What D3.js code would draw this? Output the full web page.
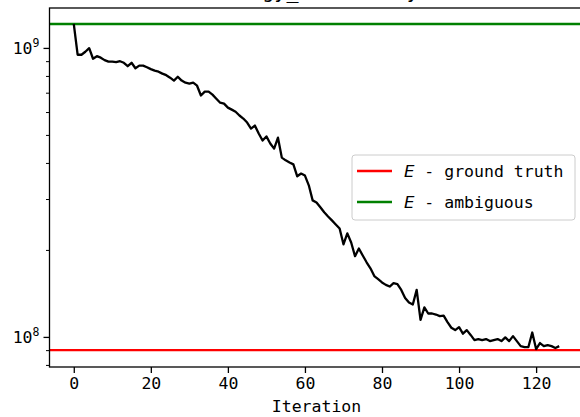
<!DOCTYPE html>
<html>
<head>
<meta charset="utf-8">
<script src="https://cdn.jsdelivr.net/npm/d3@7"></script>
<style>
  body { margin: 0; background: #fff; }
  svg { display: block; }
  text { font-family: "DejaVu Sans Mono", monospace; fill: #000; }
</style>
</head>
<body>
<div id="chart"></div>
<script>
// energy per iteration (values in units of 1e6)
var energy = [1215, 951, 951, 974, 1002, 921, 940, 929, 911, 900,
  900, 896, 903, 892, 868, 892, 854, 872, 872, 861,
  848, 838, 831, 818, 808, 792, 774, 798, 774, 761,
  755, 761, 743, 687, 709, 709, 692, 670, 649, 644,
  624, 614, 604, 586, 572, 554, 528, 541, 508, 480,
  496, 469, 450, 491, 419, 410, 403, 397, 361, 369,
  363, 336, 298, 293, 282, 271, 262, 254, 246, 238,
  210, 229, 213, 191, 203, 192, 182, 173.5, 163, 159,
  155, 152, 150, 154, 153, 146, 137, 132, 130, 146,
  115, 127, 121, 121, 120, 118.5, 119, 113, 108, 106,
  108.5, 103, 106, 102, 97.9, 98.7, 97.9, 98.7, 97.1, 97.9,
  98.7, 97.1, 100, 97.1, 101, 97.1, 93.3, 92.6, 92.6, 104,
  91.1, 95.6, 93.3, 94.1, 93.3, 91.9, 93.3];
var groundTruth = 90.4e6;
var ambiguous = 1215e6;
var xTicks = [0, 20, 40, 60, 80, 100, 120];
var legendItems = [
  {label: " - ground truth", color: "red"},
  {label: " - ambiguous", color: "green"}
];

var width = 580, height = 417;
var padL = 49.5, padT = 8, plotW = 534, plotH = 359;

var svg = d3.select("#chart").append("svg")
  .attr("width", width).attr("height", height);

var x = d3.scaleLinear().domain([-6.3, 132.3]).range([padL, padL + plotW]);
var y = d3.scaleLog().domain([7.9e7, 1.38e9]).range([padT + plotH, padT]);

var pts = energy.map(function(v, i) { return [i, v * 1e6]; });

// title (mostly cut off at the top of the picture)
svg.append("text")
  .attr("x", padL + plotW / 2).attr("y", -2)
  .attr("text-anchor", "middle")
  .style("font-size", "20px")
  .text("Energy_total of y");

// reference lines
svg.append("line")
  .attr("x1", padL).attr("x2", padL + plotW)
  .attr("y1", y(groundTruth)).attr("y2", y(groundTruth))
  .attr("stroke", "red").attr("stroke-width", 2.3);
svg.append("line")
  .attr("x1", padL).attr("x2", padL + plotW)
  .attr("y1", y(ambiguous)).attr("y2", y(ambiguous))
  .attr("stroke", "green").attr("stroke-width", 2.3);

// energy curve
var line = d3.line().x(function(d) { return x(d[0]); }).y(function(d) { return y(d[1]); });
svg.append("path")
  .datum(pts)
  .attr("d", line)
  .attr("fill", "none")
  .attr("stroke", "#000")
  .attr("stroke-width", 2.3)
  .attr("stroke-linejoin", "round");

// frame
svg.append("rect")
  .attr("x", padL).attr("y", padT)
  .attr("width", plotW).attr("height", plotH)
  .attr("fill", "none").attr("stroke", "#000").attr("stroke-width", 1.3);

// x axis
var xAxis = svg.append("g")
  .attr("transform", "translate(0," + (padT + plotH) + ")")
  .call(d3.axisBottom(x).tickValues(xTicks).tickSize(6).tickPadding(4).tickFormat(d3.format("d")));
xAxis.select(".domain").remove();
xAxis.selectAll("line").attr("stroke-width", 1.3);
xAxis.selectAll("text").style("font-size", "16.5px").attr("font-family", "DejaVu Sans Mono");

svg.append("text")
  .attr("x", padL + plotW / 2).attr("y", 412)
  .attr("text-anchor", "middle")
  .style("font-size", "16.5px")
  .text("Iteration");

// y axis: major decades + minor ticks
var minor = [];
[7, 8].forEach(function(p) {
  for (var m = 2; m <= 9; m++) {
    var v = m * Math.pow(10, p);
    if (v >= y.domain()[0] && v <= y.domain()[1]) minor.push(v);
  }
});
var majors = [1e8, 1e9];

var yAxis = svg.append("g").attr("transform", "translate(" + padL + ",0)");
yAxis.selectAll("line.minor").data(minor).enter().append("line")
  .attr("class", "minor")
  .attr("x1", -3.5).attr("x2", 0)
  .attr("y1", function(d) { return y(d); }).attr("y2", function(d) { return y(d); })
  .attr("stroke", "#000").attr("stroke-width", 1);
yAxis.selectAll("line.major").data(majors).enter().append("line")
  .attr("class", "major")
  .attr("x1", -6).attr("x2", 0)
  .attr("y1", function(d) { return y(d); }).attr("y2", function(d) { return y(d); })
  .attr("stroke", "#000").attr("stroke-width", 1.3);
var lab = yAxis.selectAll("text.major").data(majors).enter().append("text")
  .attr("class", "major")
  .attr("x", -10)
  .attr("y", function(d) { return y(d) + 6; })
  .attr("text-anchor", "end")
  .style("font-size", "16.5px");
lab.append("tspan").text("10");
lab.append("tspan")
  .attr("dy", -7)
  .style("font-size", "11.5px")
  .text(function(d) { return Math.round(Math.log10(d)); });

// legend
var lg = svg.append("g").attr("transform", "translate(352,155)");
lg.append("rect")
  .attr("width", 223).attr("height", 65).attr("rx", 3)
  .attr("fill", "#fff").attr("fill-opacity", 0.8)
  .attr("stroke", "#ccc").attr("stroke-width", 1);
var item = lg.selectAll("g.item").data(legendItems).enter().append("g")
  .attr("class", "item")
  .attr("transform", function(d, i) { return "translate(0," + (16 + i * 31) + ")"; });
item.append("line")
  .attr("x1", 5).attr("x2", 40)
  .attr("stroke", function(d) { return d.color; }).attr("stroke-width", 2.3);
var t = item.append("text")
  .attr("x", 52).attr("y", 6)
  .style("font-size", "16.5px");
t.append("tspan")
  .style("font-family", "DejaVu Sans").style("font-style", "italic")
  .text("E");
t.append("tspan").text(function(d) { return d.label; });
</script>
</body>
</html>
